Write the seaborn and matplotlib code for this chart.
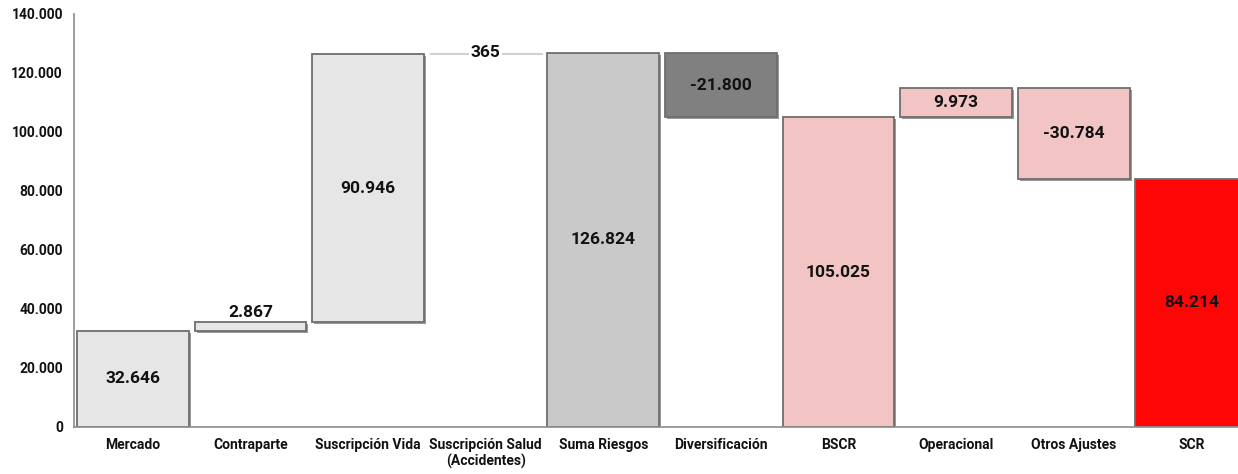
import numpy as np
import pandas as pd
import matplotlib
matplotlib.use("Agg")
import matplotlib.pyplot as plt
import matplotlib.patheffects as pe
import seaborn as sns
from matplotlib.ticker import FuncFormatter

categories = ["Mercado", "Contraparte", "Suscripción Vida", "Suscripción Salud\n(Accidentes)",
              "Suma Riesgos", "Diversificación", "BSCR", "Operacional", "Otros Ajustes", "SCR"]
changes = [32646, 2867, 90946, 365, None, -21800, None, 9973, -30784, None]
labels = ["32.646", "2.867", "90.946", "365", "126.824", "-21.800", "105.025", "9.973", "-30.784", "84.214"]
colors = ["#E6E6E6", "#E6E6E6", "#E6E6E6", "#E6E6E6", "#C9C9C9", "#808080",
          "#F2C4C4", "#F2C4C4", "#F2C4C4", "#FF0505"]

# Build bottoms / heights of the waterfall (None = running total bar)
bottoms, heights = [], []
running = 0
for c in changes:
    if c is None:
        bottoms.append(0)
        heights.append(running)
    else:
        lo = min(running, running + c)
        bottoms.append(lo)
        heights.append(abs(c))
        running += c

df = pd.DataFrame({"cat": categories, "height": heights, "bottom": bottoms})

sns.set_style("white")
plt.rcParams["font.family"] = ["Roboto", "DejaVu Sans"]

fig = plt.figure(figsize=(12.38, 4.74), dpi=100)
ax = fig.add_axes([0.0598, 0.0992, 0.95, 0.8713])

sns.barplot(data=df, x="cat", y="height", color="#E6E6E6", width=0.95, ax=ax,
            edgecolor="#6e6e6e", linewidth=1.3, saturation=1)

for i, (patch, b, col) in enumerate(zip(ax.patches, bottoms, colors)):
    patch.set_y(b)
    patch.set_facecolor(col)
    if i == 3:
        # the tiny Salud step shows only as a faint line
        patch.set_edgecolor("#d0d0d0")
        patch.set_linewidth(0.8)
        continue
    patch.set_path_effects([pe.SimplePatchShadow(offset=(1.5, -1.5), shadow_rgbFace="#555555", alpha=0.6),
                            pe.Normal()])

# value labels
for i, (b, h, lab) in enumerate(zip(bottoms, heights, labels)):
    if h < 5000:
        y = b + h + 600
        va = "bottom"
    else:
        y = b + h / 2
        va = "center"
    kw = {}
    if i == 3:
        y = b + h
        va = "center"
        kw["bbox"] = dict(facecolor="white", edgecolor="none", pad=1)
    ax.text(i, y, lab, ha="center", va=va, fontsize=12.5, fontweight="bold", color="#111111", **kw)

ax.set_ylim(0, 140000)
ax.set_xlim(-0.5, 9.5)
ax.set_yticks(np.arange(0, 140001, 20000))
ax.yaxis.set_major_formatter(FuncFormatter(lambda v, p: f"{int(v):,}".replace(",", ".")))
ax.set_xlabel("")
ax.set_ylabel("")
ax.tick_params(axis="both", length=0, labelsize=10, colors="#111111", pad=8)
for t in ax.get_xticklabels() + ax.get_yticklabels():
    t.set_fontweight("bold")

for s in ["top", "right"]:
    ax.spines[s].set_visible(False)
for s in ["left", "bottom"]:
    ax.spines[s].set_color("#8c8c8c")
    ax.spines[s].set_linewidth(1.2)

fig.savefig("out.png", dpi=100)
